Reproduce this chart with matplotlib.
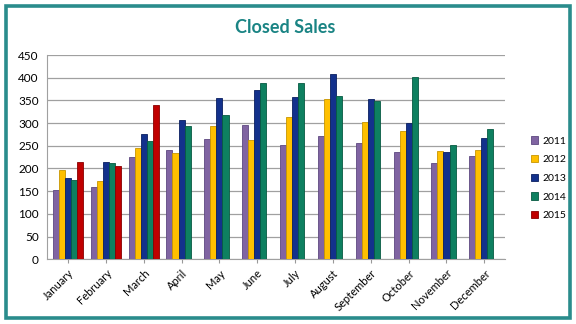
import matplotlib
matplotlib.use("Agg")
import matplotlib.pyplot as plt
import numpy as np
from matplotlib.patches import Rectangle

months = ["January", "February", "March", "April", "May", "June", "July",
          "August", "September", "October", "November", "December"]
years = ["2011", "2012", "2013", "2014", "2015"]
s2011 = [152, 159, 226, 240, 265, 295, 251, 271, 257, 237, 212, 228]
s2012 = [197, 172, 246, 235, 293, 263, 313, 354, 302, 283, 239, 240]
s2013 = [179, 214, 276, 307, 355, 373, 358, 408, 353, 300, 237, 268]
s2014 = [174, 212, 260, 293, 318, 388, 389, 359, 348, 402, 252, 287]
s2015 = [214, 205, 340]
series = [s2011, s2012, s2013, s2014, s2015]
colors = ["#8064A2", "#FFC000", "#13318C", "#0E8060", "#C00000"]
dark = ["#5E4880", "#C89600", "#0A1F60", "#075A42", "#8A0000"]

plt.rcParams['font.family'] = ['Lato', 'DejaVu Sans']
fig = plt.figure(figsize=(5.76, 3.24), dpi=100)
fig.patch.set_facecolor("white")
fig.add_artist(Rectangle((0.01, 0.018), 0.98, 0.965, transform=fig.transFigure,
                         fill=False, edgecolor="#2A8C8C", linewidth=2.6))
fig.text(0.495, 0.915, "Closed Sales", ha="center", va="center",
         fontsize=13, fontweight="bold", color="#1A8484")

ax = fig.add_axes([0.082, 0.2, 0.795, 0.63])
x = np.arange(len(months))
w = 0.16
for i, (vals, c, d, lab) in enumerate(zip(series, colors, dark, years)):
    xs = x[:len(vals)] - 2 * w + i * w
    ax.bar(xs, vals, width=w, color=c, edgecolor=d, linewidth=0.6, label=lab, zorder=3)

ax.set_ylim(0, 450)
ax.set_yticks(np.arange(0, 451, 50))
ax.set_xlim(-0.55, 11.55)
ax.set_xticks(x)
ax.set_xticklabels(months, rotation=45, ha="right", rotation_mode="anchor", fontsize=8)
ax.tick_params(axis="y", labelsize=8.5, length=0, pad=6)
ax.tick_params(axis="x", length=3, color="#999999", pad=3)
ax.grid(axis="y", color="#A0A0A0", linewidth=0.9, zorder=0)
for s in ["top", "right"]:
    ax.spines[s].set_visible(False)
ax.spines["left"].set_color("#A0A0A0")
ax.spines["bottom"].set_color("#A0A0A0")

leg = fig.legend(loc="center left", bbox_to_anchor=(0.905, 0.45), frameon=False,
                 fontsize=7.5, handlelength=0.7, handleheight=0.7, handletextpad=0.4,
                 labelspacing=0.9)
fig.savefig("out.png", dpi=100)
